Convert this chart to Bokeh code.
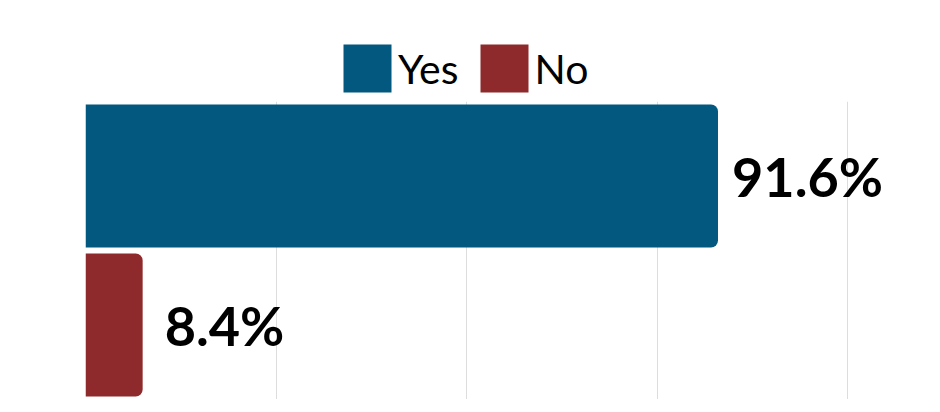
from bokeh.plotting import figure
from bokeh.layouts import column
from bokeh.models import ColumnDataSource, FactorRange, Range1d, SingleIntervalTicker, Legend, LegendItem
from bokeh.core.properties import value
from bokeh.embed import file_html
from bokeh.resources import INLINE

categories = ["Yes", "No"]
counts = [332, 30]          # bar lengths on the hidden count axis
pct_labels = ["91.6%", "8.4%"]
colors = ["#03587F", "#8F2A2C"]
label_offsets = [14, 22]

src = ColumnDataSource(dict(cat=categories, n=counts, lab=pct_labels, col=colors, off=label_offsets))

# main chart
p = figure(width=924, height=298, output_backend="svg", toolbar_location=None,
           y_range=FactorRange(factors=["No", "Yes"], range_padding=0),
           x_range=Range1d(0, 440.4),
           x_axis_location=None, y_axis_location=None,
           min_border_left=85, min_border_right=0, min_border_top=0, min_border_bottom=0)
p.outline_line_color = None
p.ygrid.visible = False
p.xgrid.ticker = SingleIntervalTicker(interval=100)
p.xgrid.grid_line_color = "#dddddd"
p.xgrid.grid_line_width = 1

p.hbar(y="cat", right="n", left=0, height=0.96, source=src, fill_color="col",
       line_color=None, border_radius=(0, 7, 7, 0))

p.text(x="n", y="cat", text="lab", x_offset="off", source=src, text_baseline="middle",
       text_font=value("Lato"), text_font_style="bold", text_font_size="54px", text_color="#000000")

# legend strip on top
lg = figure(width=924, height=101, output_backend="svg", toolbar_location=None,
            x_range=Range1d(0, 1), y_range=Range1d(0, 1),
            x_axis_location=None, y_axis_location=None,
            min_border_left=85, min_border_right=0, min_border_top=0, min_border_bottom=0)
lg.outline_line_color = None
lg.grid.visible = False
items = []
for cat, col in zip(categories, colors):
    # off-screen swatch renderer (only used for the legend glyph)
    rr = lg.hbar(y=[-5], right=[0], left=[0], height=1, fill_color=col, line_color=None)
    items.append(LegendItem(label=cat, renderers=[rr]))

legend = Legend(items=items, orientation="horizontal", location=(252, 3),
                glyph_width=60, glyph_height=60, label_height=46, label_text_font="Lato",
                label_text_font_size="41px", label_text_color="#000000",
                label_standoff=1, spacing=15,
                padding=0, margin=0, border_line_color=None, background_fill_alpha=0)
lg.add_layout(legend, "center")

layout = column(lg, p, spacing=0)
open("out.html", "w").write(file_html(layout, INLINE))
